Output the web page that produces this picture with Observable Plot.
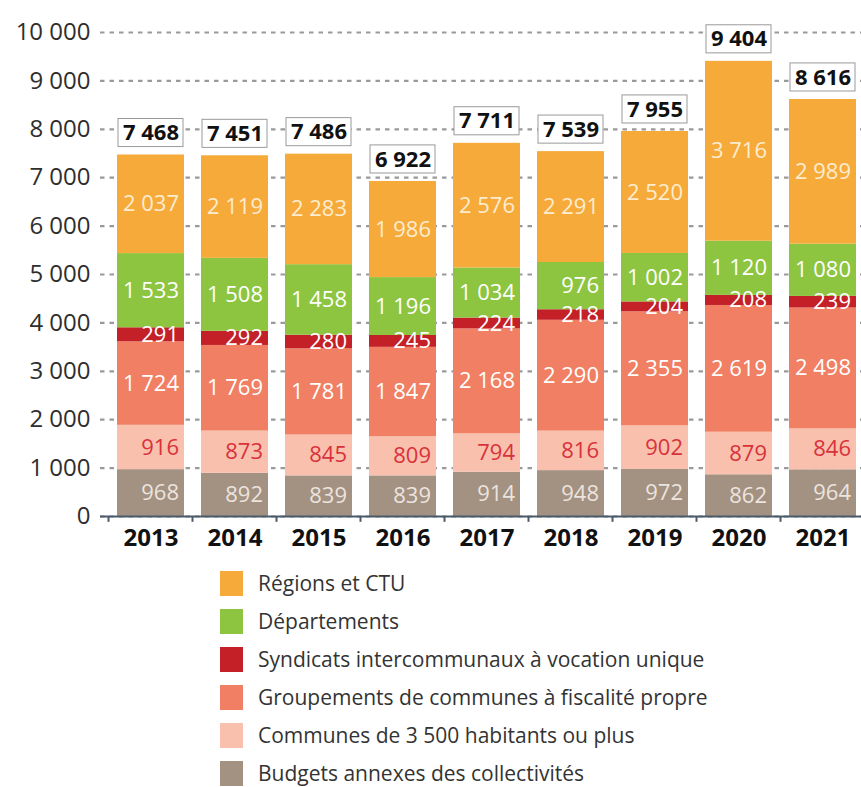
<!DOCTYPE html>
<html>
<head>
<meta charset="utf-8">
<script src="https://cdn.jsdelivr.net/npm/d3@7"></script>
<script src="https://cdn.jsdelivr.net/npm/@observablehq/plot@0.6"></script>
<style>
  body { margin: 0; background: #fff; font-family: "Open Sans", sans-serif; }
  #wrap { position: relative; width: 861px; height: 787px; overflow: hidden; }
  #legend { position: absolute; left: 220px; top: 565px; }
  .row { display: flex; align-items: center; height: 37.9px; }
  .sw { width: 23px; height: 25px; margin-right: 15px; }
  .lab { font-size: 21px; line-height: 1.1; color: #333; white-space: nowrap; }
</style>
</head>
<body>
<div id="wrap">
  <div id="chart"></div>
  <div id="legend"></div>
</div>
<script>
const years = ["2013", "2014", "2015", "2016", "2017", "2018", "2019", "2020", "2021"];
// stack order, bottom to top
const seriesNames = [
  "Budgets annexes des collectivités",
  "Communes de 3 500 habitants ou plus",
  "Groupements de communes à fiscalité propre",
  "Syndicats intercommunaux à vocation unique",
  "Départements",
  "Régions et CTU"
];
const budgets      = [968, 892, 839, 839, 914, 948, 972, 862, 964];
const communes     = [916, 873, 845, 809, 794, 816, 902, 879, 846];
const groupements  = [1724, 1769, 1781, 1847, 2168, 2290, 2355, 2619, 2498];
const syndicats    = [291, 292, 280, 245, 224, 218, 204, 208, 239];
const departements = [1533, 1508, 1458, 1196, 1034, 976, 1002, 1120, 1080];
const regions      = [2037, 2119, 2283, 1986, 2576, 2291, 2520, 3716, 2989];
const totals       = [7468, 7451, 7486, 6922, 7711, 7539, 7955, 9404, 8616];
const yTicks       = [0, 1000, 2000, 3000, 4000, 5000, 6000, 7000, 8000, 9000, 10000];

const seriesValues = [budgets, communes, groupements, syndicats, departements, regions];
const colors     = ["#a39182", "#f9c0ae", "#f07f63", "#c32028", "#8dc540", "#f6aa3a"];
const textColors = ["#ece4de", "#d8323a", "#ffffff", "#ffffff", "#ffffff", "#fdecd0"];

const loc = d3.formatLocale({decimal: ",", thousands: "\u00a0", grouping: [3], currency: ["", " €"]});
const fmt = loc.format(",d");

const data = years.flatMap((yr, i) => seriesNames.map((s, j) => ({
  year: yr, series: s, idx: j, value: seriesValues[j][i]
})));
const totalData = years.map((yr, i) => ({year: yr, total: totals[i]}));

// offsets expressed in data units (≈48.4 px per 1000)
const gapU = 165, boxU = 580;

const chart = Plot.plot({
  width: 861,
  height: 560,
  marginLeft: 100,
  marginRight: 0,
  marginTop: 32,
  marginBottom: 44,
  style: {fontFamily: "'Open Sans', sans-serif", background: "#fff", color: "#222"},
  x: {domain: years, paddingInner: 0.2, paddingOuter: 0.0765, align: 0.77, label: null},
  y: {domain: [0, 10000], label: null},
  color: {type: "identity"},
  marks: [
    Plot.gridY(yTicks, {stroke: "#9a9a9a", strokeOpacity: 1, strokeWidth: 2.2, strokeDasharray: "4.5,5"}),
    Plot.axisY(yTicks, {tickSize: 0, tickPadding: 10, tickFormat: fmt, fontSize: 24, fill: "#2e2e2e", label: null}),
    Plot.axisX({tickSize: 0, tickPadding: 12, fontSize: 24, fontWeight: "bold", fill: "#111", label: null}),
    Plot.barY(data, {x: "year", y: "value", z: "series", order: seriesNames, fill: d => colors[d.idx]}),
    Plot.ruleY([0], {stroke: "#4b5a6b", strokeWidth: 2}),
    Plot.ruleX(years, {x: d => d, y1: 0, y2: -120, dx: -42.5, stroke: "#4b5a6b", strokeWidth: 2}),
    Plot.text(data, Plot.stackY({
      x: "year", y: "value", z: "series", order: seriesNames,
      text: d => fmt(d.value), fill: d => textColors[d.idx],
      textAnchor: "end", dx: 28, fontSize: 22
    })),
    Plot.barY(totalData, {
      x: "year", y1: d => d.total + gapU, y2: d => d.total + gapU + boxU,
      fill: "#fff", stroke: "#9a9a9a", strokeWidth: 1, insetLeft: 1, insetRight: 1
    }),
    Plot.text(totalData, {
      x: "year", y: d => d.total + gapU + boxU / 2, text: d => fmt(d.total),
      fontSize: 22, fontWeight: "bold", fill: "#111"
    })
  ]
});
document.getElementById("chart").appendChild(chart);

const legend = document.getElementById("legend");
for (let j = seriesNames.length - 1; j >= 0; j--) {
  const row = document.createElement("div");
  row.className = "row";
  row.innerHTML = `<div class="sw" style="background:${colors[j]}"></div><div class="lab">${seriesNames[j]}</div>`;
  legend.appendChild(row);
}
</script>
</body>
</html>
